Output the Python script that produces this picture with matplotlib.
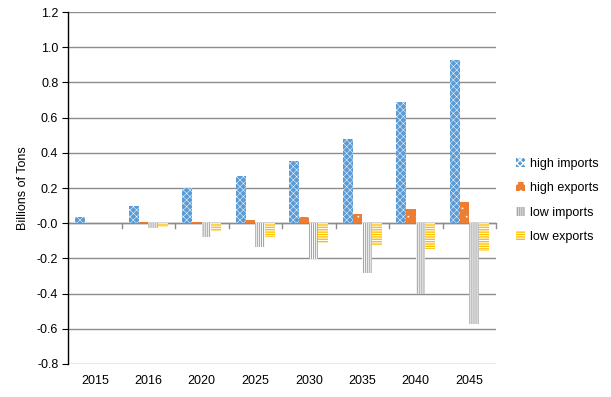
import matplotlib
matplotlib.use("Agg")
import matplotlib.pyplot as plt
import numpy as np

plt.rcParams['font.family'] = ['Liberation Sans', 'DejaVu Sans']

years = ['2015', '2016', '2020', '2025', '2030', '2035', '2040', '2045']
high_imports = [0.034, 0.10, 0.20, 0.267, 0.352, 0.48, 0.69, 0.93]
high_exports = [0.0, 0.008, 0.008, 0.02, 0.034, 0.05, 0.08, 0.118]
low_imports = [0.0, -0.028, -0.08, -0.137, -0.205, -0.285, -0.405, -0.575]
low_exports = [0.0, -0.023, -0.045, -0.08, -0.115, -0.125, -0.148, -0.16]

# name, values, face, hatch colour, hatch, hatch line width
series = [
    ('high imports', high_imports, '#5B9BD5', 'white', 'x' * 5, 0.35),
    ('high exports', high_exports, '#ED7D31', 'white', '..', 0.1),
    ('low imports', low_imports, 'white', '#A5A5A5', '|' * 8, 0.8),
    ('low exports', low_exports, 'white', '#FFC000', '-' * 7, 1.0),
]

fig = plt.figure(figsize=(6.11, 3.97), dpi=100)
ax = fig.add_axes([68/611, 33/397, 428/611, 352/397])

x = np.arange(len(years))
w = 1 / 5.5
for i, (name, vals, fc, hc, hatch, hlw) in enumerate(series):
    with plt.rc_context({'hatch.linewidth': hlw}):
        ax.bar(x + (i - 1.5) * w, vals, w, facecolor=fc, edgecolor=hc,
               hatch=hatch, linewidth=0, label=name, zorder=3)

ax.set_xlim(-0.5, len(years) - 0.5)
ax.set_ylim(-0.8, 1.2)
yt = np.arange(-0.8, 1.21, 0.2)
ax.set_yticks(yt)
ax.set_yticklabels([f'{v:.1f}' for v in yt], fontsize=9)
ax.yaxis.grid(True, color='#8C8C8C', linewidth=1, zorder=0)
ax.set_axisbelow(True)
ax.tick_params(axis='y', length=4, color='black', pad=3)

ax.set_xticks(x)
ax.set_xticklabels(years, fontsize=9)
ax.tick_params(axis='x', length=0, pad=8)
ax.axhline(0, color='#8C8C8C', linewidth=1, zorder=2)
for b in np.arange(0.5, len(years) - 0.5 + 0.01, 1.0):
    ax.plot([b, b], [0, -0.025], color='#8C8C8C', linewidth=1, zorder=2, clip_on=False)

for s in ['top', 'right', 'bottom']:
    ax.spines[s].set_visible(False)
ax.spines['left'].set_color('black')
ax.spines['left'].set_linewidth(1)

ax.set_ylabel('Billions of Tons', fontsize=9, labelpad=6)

ax.legend(loc='center left', bbox_to_anchor=(1.02, 0.465), frameon=False,
          fontsize=9, handlelength=0.7, handleheight=0.7, handletextpad=0.4,
          labelspacing=1.0)

fig.savefig('out.png', dpi=100)
